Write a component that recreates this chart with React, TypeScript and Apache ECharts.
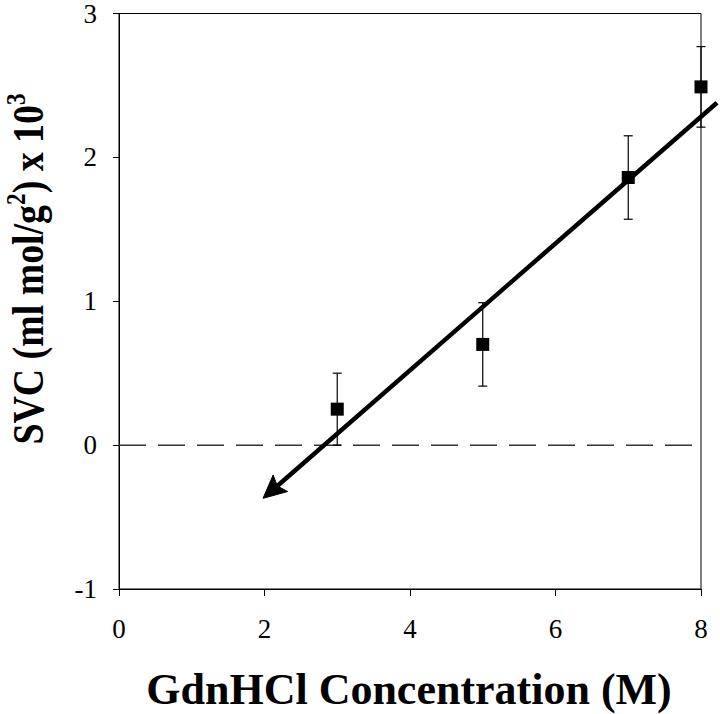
import React, { useEffect, useRef } from 'react';
import * as echarts from 'echarts';

// ---- data ----
const concentration = [3, 5, 7, 8]; // GdnHCl (M)
const svc = [0.25, 0.7, 1.86, 2.49]; // SVC x 10^3
const svcError = [0.25, 0.29, 0.29, 0.28];
const trendFrom = [8.22, 2.38]; // start of the fitted arrow line
const trendTo = [1.98, -0.37]; // arrow tip
const zeroLineX = [0, 8];
const zeroLineY = [0, 0];
const xTicks = [0, 2, 4, 6, 8];
const yTicks = [-1, 0, 1, 2, 3];

const SERIF = '"Liberation Serif", "Times New Roman", Times, serif';

export default function App() {
  const ref = useRef<HTMLDivElement>(null);

  useEffect(() => {
    const chart = echarts.init(ref.current as HTMLDivElement, null, { renderer: 'svg' });

    const option: any = {
      animation: false,
      backgroundColor: '#ffffff',
      grid: {
        left: 119,
        right: 19,
        top: 12,
        bottom: 125,
        show: true,
        borderColor: '#000',
        borderWidth: 1,
        backgroundColor: 'transparent',
      },
      xAxis: {
        type: 'value',
        min: xTicks[0],
        max: xTicks[xTicks.length - 1],
        interval: xTicks[1] - xTicks[0],
        axisLine: { show: true, onZero: false, lineStyle: { color: '#000', width: 1 } },
        axisTick: { show: true, length: 7, lineStyle: { color: '#000', width: 1 } },
        axisLabel: { margin: 26, fontFamily: SERIF, fontSize: 27, color: '#000' },
        splitLine: { show: false },
      },
      yAxis: {
        type: 'value',
        min: yTicks[0],
        max: yTicks[yTicks.length - 1],
        interval: yTicks[1] - yTicks[0],
        axisLine: { show: true, onZero: false, lineStyle: { color: '#000', width: 1 } },
        axisTick: { show: true, length: 6, lineStyle: { color: '#000', width: 1 } },
        axisLabel: { margin: 22, fontFamily: SERIF, fontSize: 27, color: '#000' },
        splitLine: { show: false },
      },
      graphic: [
        {
          type: 'text',
          x: 28,
          y: 269,
          rotation: Math.PI / 2,
          scaleX: 0.86,
          silent: true,
          style: {
            text: 'SVC (ml mol/g{s|2}) x 10{s|3}',
            fontFamily: SERIF,
            fontWeight: 'bold',
            fontSize: 44,
            lineHeight: 52,
            fill: '#000',
            textAlign: 'center',
            textVerticalAlign: 'middle',
            rich: {
              s: {
                fontFamily: SERIF,
                fontWeight: 'bold',
                fontSize: 27,
                lineHeight: 27,
                verticalAlign: 'top',
                fill: '#000',
              },
            },
          },
        },
        {
          type: 'text',
          x: 409,
          y: 689,
          silent: true,
          style: {
            text: 'GdnHCl Concentration (M)',
            fontFamily: SERIF,
            fontWeight: 'bold',
            fontSize: 44,
            fill: '#000',
            textAlign: 'center',
            textVerticalAlign: 'middle',
          },
        },
      ],
      series: [
        {
          name: 'zero',
          type: 'line',
          silent: true,
          symbol: 'none',
          data: zeroLineX.map((x, i) => [x, zeroLineY[i]]),
          lineStyle: { color: '#333', width: 1.5, type: [27, 12] },
          z: 1,
        },
        {
          name: 'error',
          type: 'custom',
          silent: true,
          clip: false,
          data: concentration.map((c, i) => [c, svc[i], svcError[i]]),
          encode: { x: 0, y: 1 },
          renderItem: (params: any, api: any) => {
            const x = api.value(0);
            const y = api.value(1);
            const e = api.value(2);
            const top = api.coord([x, y + e]);
            const bot = api.coord([x, y - e]);
            const h = 4.5;
            const st = { stroke: '#000', lineWidth: 1.2 };
            return {
              type: 'group',
              children: [
                { type: 'line', shape: { x1: top[0], y1: top[1], x2: bot[0], y2: bot[1] }, style: st },
                { type: 'line', shape: { x1: top[0] - h, y1: top[1], x2: top[0] + h, y2: top[1] }, style: st },
                { type: 'line', shape: { x1: bot[0] - h, y1: bot[1], x2: bot[0] + h, y2: bot[1] }, style: st },
              ],
            };
          },
          z: 2,
        },
        {
          name: 'trend',
          type: 'custom',
          silent: true,
          clip: false,
          data: [[trendFrom[0], trendFrom[1], trendTo[0], trendTo[1]]],
          encode: { x: [0, 2], y: [1, 3] },
          renderItem: (params: any, api: any) => {
            const p1 = api.coord([api.value(0), api.value(1)]);
            const p2 = api.coord([api.value(2), api.value(3)]);
            const dx = p2[0] - p1[0];
            const dy = p2[1] - p1[1];
            const len = Math.hypot(dx, dy);
            const ux = dx / len;
            const uy = dy / len;
            const nx = -uy;
            const ny = ux;
            const L = 23;
            const W = 11;
            const base = [p2[0] - ux * L, p2[1] - uy * L];
            const notch = [p2[0] - ux * L * 0.82, p2[1] - uy * L * 0.82];
            const w1 = [base[0] + nx * W, base[1] + ny * W];
            const w2 = [base[0] - nx * W, base[1] - ny * W];
            return {
              type: 'group',
              children: [
                {
                  type: 'line',
                  shape: { x1: p1[0], y1: p1[1], x2: notch[0], y2: notch[1] },
                  style: { stroke: '#000', lineWidth: 4.5 },
                },
                {
                  type: 'polygon',
                  shape: { points: [p2, w1, notch, w2] },
                  style: { fill: '#000', stroke: '#000', lineWidth: 1 },
                },
              ],
            };
          },
          z: 3,
        },
        {
          name: 'SVC',
          type: 'scatter',
          silent: true,
          symbol: 'rect',
          symbolSize: 13,
          data: concentration.map((c, i) => [c, svc[i]]),
          itemStyle: { color: '#000', opacity: 1 },
          z: 4,
        },
      ],
    };

    chart.setOption(option);
    return () => {
      chart.dispose();
    };
  }, []);

  return (
    <div
      ref={ref}
      style={{ position: 'fixed', left: 0, top: 0, width: 720, height: 714, background: '#fff' }}
    />
  );
}
